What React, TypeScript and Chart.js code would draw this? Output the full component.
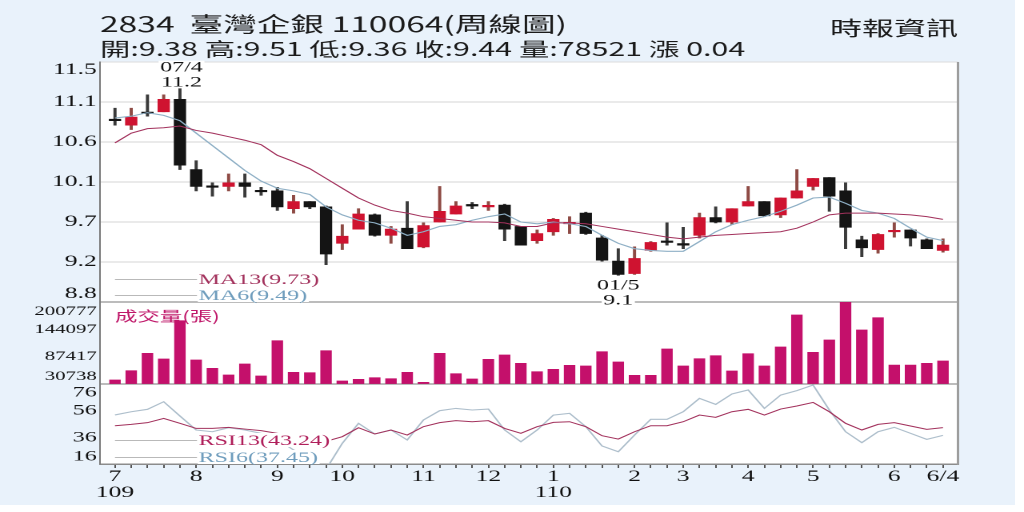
import React, { useEffect, useRef } from 'react';
import { Chart, registerables } from 'chart.js';

Chart.register(...registerables);

// ---------------- data (weekly candles, 109/7 .. 110/6/4) ----------------
const opens = [10.85, 10.79, 10.93, 10.94, 11.08, 10.29, 10.10, 10.10, 10.14, 10.05, 10.05, 9.85, 9.93, 9.87, 9.46, 9.62, 9.78, 9.55, 9.63, 9.42, 9.70, 9.79, 9.89, 9.87, 9.89, 9.65, 9.49, 9.59, 9.68, 9.80, 9.52, 9.26, 9.12, 9.38, 9.48, 9.45, 9.55, 9.75, 9.70, 9.88, 9.93, 9.78, 9.97, 10.10, 10.20, 10.05, 9.50, 9.39, 9.59, 9.61, 9.50, 9.38];
const highs = [10.98, 10.98, 11.13, 11.13, 11.20, 10.39, 10.14, 10.24, 10.24, 10.09, 10.09, 10.00, 9.93, 9.88, 9.67, 9.85, 9.79, 9.65, 9.93, 9.69, 10.10, 9.93, 9.92, 9.93, 9.90, 9.65, 9.61, 9.74, 9.76, 9.81, 9.55, 9.40, 9.42, 9.48, 9.69, 9.64, 9.80, 9.87, 9.85, 10.10, 9.93, 9.97, 10.29, 10.19, 10.20, 10.14, 9.54, 9.57, 9.69, 9.61, 9.51, 9.51];
const lows = [10.79, 10.74, 10.89, 10.94, 10.29, 10.05, 9.99, 10.05, 9.98, 10.00, 9.83, 9.80, 9.85, 9.22, 9.39, 9.62, 9.54, 9.46, 9.40, 9.41, 9.70, 9.79, 9.85, 9.83, 9.49, 9.44, 9.46, 9.55, 9.57, 9.56, 9.26, 9.10, 9.11, 9.37, 9.44, 9.40, 9.52, 9.69, 9.67, 9.88, 9.76, 9.75, 9.97, 10.06, 9.82, 9.40, 9.31, 9.35, 9.53, 9.43, 9.40, 9.36];
const closes = [10.84, 10.88, 10.92, 11.08, 10.34, 10.10, 10.09, 10.14, 10.10, 10.04, 9.87, 9.93, 9.87, 9.34, 9.54, 9.79, 9.55, 9.62, 9.40, 9.66, 9.82, 9.88, 9.88, 9.88, 9.62, 9.44, 9.57, 9.73, 9.69, 9.57, 9.27, 9.11, 9.29, 9.47, 9.47, 9.44, 9.75, 9.70, 9.85, 9.93, 9.77, 9.97, 10.05, 10.19, 9.99, 9.64, 9.41, 9.56, 9.60, 9.52, 9.40, 9.44];
const volumes = [39000, 58300, 94400, 82600, 162000, 80500, 63300, 49400, 72200, 47300, 120500, 55000, 54200, 99800, 37000, 40500, 43800, 41700, 55000, 34300, 94400, 52100, 41100, 82000, 90900, 73700, 56200, 61200, 69500, 68100, 97700, 76400, 48800, 48800, 103300, 68100, 83200, 89400, 57700, 93600, 68100, 107500, 173800, 96500, 122000, 200777, 142700, 168200, 70100, 70100, 73700, 78521];
const ma13 = [10.59, 10.70, 10.75, 10.76, 10.78, 10.73, 10.70, 10.66, 10.62, 10.57, 10.45, 10.38, 10.30, 10.19, 10.08, 9.97, 9.89, 9.83, 9.80, 9.76, 9.74, 9.72, 9.70, 9.70, 9.69, 9.65, 9.65, 9.69, 9.69, 9.68, 9.65, 9.62, 9.59, 9.56, 9.53, 9.51, 9.53, 9.55, 9.56, 9.57, 9.58, 9.59, 9.63, 9.70, 9.78, 9.80, 9.80, 9.80, 9.79, 9.78, 9.76, 9.73];
const ma6 = [10.87, 10.89, 10.93, 10.90, 10.84, 10.70, 10.56, 10.42, 10.28, 10.16, 10.08, 10.05, 10.01, 9.87, 9.78, 9.72, 9.69, 9.63, 9.55, 9.59, 9.65, 9.67, 9.72, 9.76, 9.79, 9.70, 9.68, 9.70, 9.68, 9.65, 9.55, 9.46, 9.40, 9.38, 9.37, 9.37, 9.48, 9.59, 9.67, 9.72, 9.76, 9.82, 9.89, 9.97, 9.98, 9.91, 9.83, 9.80, 9.74, 9.63, 9.53, 9.49];
const rsi13 = [44.7, 45.7, 47.0, 50.2, 46.5, 42.7, 42.7, 43.5, 42.2, 41.0, 39.0, 37.0, 35.0, 33.0, 36.5, 43.2, 38.5, 41.5, 37.7, 44.0, 47.0, 48.5, 47.7, 48.5, 42.7, 39.0, 44.0, 47.2, 47.7, 44.0, 37.2, 34.7, 40.2, 44.7, 44.7, 47.7, 52.7, 51.0, 55.2, 57.0, 52.7, 57.2, 59.5, 62.2, 55.2, 46.5, 41.5, 45.7, 47.0, 44.5, 42.0, 43.24];
const rsi6 = [52.8, 55.2, 57.0, 62.7, 52.0, 41.5, 40.2, 43.2, 41.5, 39.0, 34.5, 26.5, 21.0, 12.0, 31.5, 46.5, 38.5, 41.5, 34.0, 49.0, 56.0, 57.7, 56.5, 57.2, 41.5, 32.7, 41.5, 52.7, 54.0, 44.0, 29.5, 25.2, 37.7, 49.5, 49.5, 55.2, 65.2, 60.7, 68.5, 71.5, 57.7, 67.7, 71.0, 75.2, 56.5, 40.2, 32.0, 40.2, 43.5, 39.0, 34.5, 37.45];

const monthTickIndex = [0, 5, 10, 14, 19, 23, 27, 32, 35, 39, 43, 48, 51];
const monthTickLabels = ['7', '8', '9', '10', '11', '12', '1', '2', '3', '4', '5', '6', '6/4'];
const yearTickIndex = [0, 27];
const yearTickLabels = ['109', '110'];

const priceMin = 8.8;
const priceMax = 11.5;
const priceGridValues = [9.25, 9.7, 10.15, 10.6, 11.05];
const priceTickLabels = ['8.8', '9.2', '9.7', '10.1', '10.6', '11.1', '11.5'];
const volMin = 30738;
const volMax = 200777;
const volInnerValues = [87417, 144097];
const volTickLabels = ['30738', '87417', '144097', '200777'];
const rsiMin = 16;
const rsiMax = 76;
const rsiInnerValues = [36, 56];
const rsiTickLabels = ['16', '36', '56', '76'];

const stockCode = '2834';
const stockName = '臺灣企銀';
const chartStamp = '110064';
const chartKind = '周線圖';
const sourceLabel = '時報資訊';
const peakIndex = 4;
const peakDate = '07/4';
const troughIndex = 31;
const troughDate = '01/5';

// ---------------- layout / style ----------------
const SX = 1.6; // horizontal stretch of the picture
const CW = 640; // internal canvas width (1024 / SX)
const CH = 512;
const PANEL_PRICE = 240;
const PANEL_VOL = 82;
const PANEL_RSI = 80;
const X_PAD = 0.924;

const RED = '#cf1330';
const BLACK = '#141414';
const RED_WICK = '#8e4a44';
const BLACK_WICK = '#3a3a3a';
const VOL_COLOR = '#c4106b';
const MAROON = '#a3325d';
const STEEL = '#8fb0c6';
const SERIF = '"Liberation Serif", "Times New Roman", serif';
const CJK = '"Noto Sans CJK TC", "Noto Sans", sans-serif';

function panelTicks(min: number, max: number, inner: number[], px: number, insetTop: number, insetBottom: number) {
  const per = (max - min) / px;
  return [min, min + insetBottom * per, ...inner, max - insetTop * per, max];
}

const priceTicks = panelTicks(priceMin, priceMax, priceGridValues, PANEL_PRICE, 8, 8);
const priceLabels = ['', ...priceTickLabels, ''];
const volTicks = panelTicks(volMin, volMax, volInnerValues, PANEL_VOL, 9.7, 7.3);
const volLabels = ['', ...volTickLabels, ''];
const rsiTicks = panelTicks(rsiMin, rsiMax, rsiInnerValues, PANEL_RSI, 8.7, 7.3);
const rsiLabels = ['', ...rsiTickLabels, ''];

const idx = opens.map((_, i) => i);
const bodyColors = idx.map((i) => (closes[i] >= opens[i] ? RED : BLACK));
const wickColors = idx.map((i) => (closes[i] >= opens[i] ? RED_WICK : BLACK_WICK));

function drawLegendItem(ctx: CanvasRenderingContext2D, x0: number, x1: number, y: number, text: string, color: string, font: string) {
  ctx.strokeStyle = '#b9b9b9';
  ctx.lineWidth = 1;
  ctx.beginPath();
  ctx.moveTo(x0, y + 0.5);
  ctx.lineTo(x1, y + 0.5);
  ctx.stroke();
  ctx.font = font;
  const w = ctx.measureText(text).width;
  ctx.fillStyle = '#ffffff';
  ctx.fillRect(x1 + 0.5, y - 7, w + 1.5, 14);
  ctx.fillStyle = color;
  ctx.textAlign = 'left';
  ctx.textBaseline = 'middle';
  ctx.fillText(text, x1 + 1, y + 1);
}

function drawBoxedText(ctx: CanvasRenderingContext2D, text: string, x: number, y: number) {
  const w = ctx.measureText(text).width;
  ctx.fillStyle = '#ffffff';
  ctx.fillRect(x - w / 2 - 1, y - 6, w + 2, 12);
  ctx.fillStyle = '#111111';
  ctx.fillText(text, x, y + 1);
}

const decorPlugin = {
  id: 'decor',
  beforeDraw(chart: any) {
    const { ctx, chartArea: a } = chart;
    ctx.save();
    ctx.fillStyle = '#ffffff';
    ctx.fillRect(a.left, a.top, a.right - a.left, a.bottom - a.top);
    ctx.restore();
  },
  afterDraw(chart: any) {
    const { ctx, chartArea: a, scales } = chart;
    const last = closes.length - 1;
    ctx.save();
    // right frame edge
    ctx.strokeStyle = '#9d9d9d';
    ctx.lineWidth = 1.5;
    ctx.beginPath();
    ctx.moveTo(a.right, a.top);
    ctx.lineTo(a.right, a.bottom + 0.75);
    ctx.stroke();

    // header
    const line1 = `${stockCode}  ${stockName} ${chartStamp}(${chartKind})`;
    const change = (closes[last] - closes[last - 1]).toFixed(2);
    const line2 = `開:${opens[last].toFixed(2)} 高:${highs[last].toFixed(2)} 低:${lows[last].toFixed(2)} 收:${closes[last].toFixed(2)} 量:${volumes[last]} 漲 ${change}`;
    ctx.fillStyle = '#1b1b1b';
    ctx.textBaseline = 'middle';
    ctx.textAlign = 'left';
    ctx.font = `21px ${CJK}`;
    ctx.fillText(line1, a.left, 24);
    ctx.font = `19px ${CJK}`;
    ctx.fillText(line2, a.left, 49);
    ctx.textAlign = 'right';
    ctx.font = `20px ${CJK}`;
    ctx.fillText(sourceLabel, a.right, 28);

    // panel legends
    const lx0 = 115 / SX;
    const lx1 = 197 / SX;
    drawLegendItem(ctx, lx0, lx1, 279, `MA13(${ma13[last].toFixed(2)})`, MAROON, `15px ${SERIF}`);
    drawLegendItem(ctx, lx0, lx1, 295, `MA6(${ma6[last].toFixed(2)})`, '#6f9dbd', `15px ${SERIF}`);
    drawLegendItem(ctx, lx0, lx1, 440, `RSI13(${rsi13[last].toFixed(2)})`, '#b01f5b', `15px ${SERIF}`);
    drawLegendItem(ctx, lx0, lx1, 457, `RSI6(${rsi6[last].toFixed(2)})`, '#6f9dbd', `15px ${SERIF}`);
    ctx.font = `14px ${CJK}`;
    ctx.fillStyle = '#c0186a';
    ctx.textAlign = 'left';
    ctx.fillText('成交量(張)', lx0, 316);

    // high / low annotations
    ctx.font = `15px ${SERIF}`;
    ctx.textAlign = 'center';
    ctx.textBaseline = 'middle';
    const px = scales.x.getPixelForValue(peakIndex);
    const py = scales.y.getPixelForValue(highs[peakIndex]);
    drawBoxedText(ctx, peakDate, px + 1, py - 22);
    drawBoxedText(ctx, highs[peakIndex].toFixed(1), px + 1, py - 7);
    const tx = scales.x.getPixelForValue(troughIndex);
    const ty = scales.y.getPixelForValue(lows[troughIndex]);
    drawBoxedText(ctx, troughDate, tx, ty + 9);
    drawBoxedText(ctx, lows[troughIndex].toFixed(1), tx, ty + 24);
    ctx.restore();
  },
};

function gridColorFor(edgeDark: number | null, lightValues: number[], topValue: number | null) {
  return (c: any) => {
    const v = c.tick ? c.tick.value : undefined;
    if (edgeDark !== null && v === edgeDark) return '#7a7a7a';
    if (lightValues.includes(v)) return '#d6d6d6';
    if (topValue !== null && v === topValue) return '#dcdcdc';
    return 'rgba(0,0,0,0)';
  };
}

export default function App() {
  const ref = useRef<HTMLCanvasElement | null>(null);

  useEffect(() => {
    const canvas = ref.current;
    if (!canvas) return;
    const chart = new Chart(canvas, {
      type: 'bar',
      data: {
        datasets: [
          {
            type: 'line',
            label: 'MA13',
            data: idx.map((i) => ({ x: i, y: ma13[i] })),
            yAxisID: 'y',
            borderColor: MAROON,
            borderWidth: 1,
            pointRadius: 0,
            tension: 0,
            order: 0,
          },
          {
            type: 'line',
            label: 'MA6',
            data: idx.map((i) => ({ x: i, y: ma6[i] })),
            yAxisID: 'y',
            borderColor: STEEL,
            borderWidth: 1.1,
            pointRadius: 0,
            tension: 0,
            order: 0,
          },
          {
            type: 'bar',
            label: 'wick',
            data: idx.map((i) => ({ x: i, y: [lows[i], highs[i]] })),
            yAxisID: 'y',
            backgroundColor: wickColors,
            barThickness: 1.3,
            grouped: false,
            order: 2,
          },
          {
            type: 'bar',
            label: 'body',
            data: idx.map((i) => ({ x: i, y: [opens[i], closes[i]] })),
            yAxisID: 'y',
            backgroundColor: bodyColors,
            barThickness: 7,
            minBarLength: 1.5,
            grouped: false,
            order: 1,
          },
          {
            type: 'bar',
            label: 'volume',
            data: idx.map((i) => ({ x: i, y: volumes[i] })),
            yAxisID: 'yVol',
            base: volMin,
            backgroundColor: VOL_COLOR,
            barThickness: 6.5,
            grouped: false,
            order: 1,
          },
          {
            type: 'line',
            label: 'RSI13',
            data: idx.map((i) => ({ x: i, y: rsi13[i] })),
            yAxisID: 'yRsi',
            borderColor: MAROON,
            borderWidth: 1,
            pointRadius: 0,
            tension: 0,
            order: 0,
          },
          {
            type: 'line',
            label: 'RSI6',
            data: idx.map((i) => ({ x: i, y: rsi6[i] })),
            yAxisID: 'yRsi',
            borderColor: '#aebfcc',
            borderWidth: 1.1,
            pointRadius: 0,
            tension: 0,
            order: 0,
          },
        ],
      } as any,
      options: {
        responsive: false,
        devicePixelRatio: 2,
        animation: false,
        events: [],
        layout: { padding: { top: 62, right: CW - 958 / SX, bottom: 0, left: 0 }, autoPadding: false },
        plugins: { legend: { display: false }, tooltip: { enabled: false }, title: { display: false } },
        scales: {
          x: {
            type: 'linear',
            position: 'bottom',
            min: -X_PAD,
            max: opens.length - 1 + X_PAD,
            offset: false,
            bounds: 'data',
            afterBuildTicks: (s: any) => {
              s.ticks = idx.map((v) => ({ value: v }));
            },
            afterFit: (s: any) => {
              s.height = 48;
              s.paddingLeft = 0;
              s.paddingRight = 0;
            },
            grid: { offset: false, drawOnChartArea: false, drawTicks: true, tickLength: 4, color: '#555555', lineWidth: 1 },
            border: { display: true, color: '#8c8c8c', width: 1.5 },
            ticks: {
              autoSkip: false,
              maxRotation: 0,
              minRotation: 0,
              padding: 1,
              color: '#111111',
              font: { family: SERIF, size: 16, lineHeight: 1.0 },
              callback: (v: any) => {
                const k = monthTickIndex.indexOf(v);
                if (k < 0) return '';
                const y = yearTickIndex.indexOf(v);
                return y >= 0 ? [monthTickLabels[k], yearTickLabels[y]] : monthTickLabels[k];
              },
            },
          },
          y: {
            type: 'linear',
            position: 'left',
            stack: 'panels',
            stackWeight: PANEL_PRICE,
            weight: 3,
            min: priceMin,
            max: priceMax,
            bounds: 'data',
            afterBuildTicks: (s: any) => {
              s.ticks = priceTicks.map((v) => ({ value: v }));
            },
            afterFit: (s: any) => {
              s.width = 100 / SX;
              s.paddingTop = 0;
              s.paddingBottom = 0;
            },
            grid: { drawTicks: false, lineWidth: 1, color: gridColorFor(priceMin, priceGridValues, priceMax) },
            border: { display: true, color: '#7a7a7a', width: 1 },
            ticks: {
              autoSkip: false,
              padding: 2,
              color: '#111111',
              font: { family: SERIF, size: 16 },
              callback: (_v: any, i: number) => priceLabels[i],
            },
          },
          yVol: {
            type: 'linear',
            position: 'left',
            stack: 'panels',
            stackWeight: PANEL_VOL,
            weight: 2,
            min: volMin,
            max: volMax,
            bounds: 'data',
            afterBuildTicks: (s: any) => {
              s.ticks = volTicks.map((v) => ({ value: v }));
            },
            afterFit: (s: any) => {
              s.width = 100 / SX;
              s.paddingTop = 0;
              s.paddingBottom = 0;
            },
            grid: { drawTicks: false, lineWidth: 1, color: gridColorFor(volMin, [], null) },
            border: { display: true, color: '#7a7a7a', width: 1 },
            ticks: {
              autoSkip: false,
              padding: 2,
              color: '#111111',
              font: { family: SERIF, size: 13 },
              callback: (_v: any, i: number) => volLabels[i],
            },
          },
          yRsi: {
            type: 'linear',
            position: 'left',
            stack: 'panels',
            stackWeight: PANEL_RSI,
            weight: 1,
            min: rsiMin,
            max: rsiMax,
            bounds: 'data',
            afterBuildTicks: (s: any) => {
              s.ticks = rsiTicks.map((v) => ({ value: v }));
            },
            afterFit: (s: any) => {
              s.width = 100 / SX;
              s.paddingTop = 0;
              s.paddingBottom = 0;
            },
            grid: { drawTicks: false, lineWidth: 1, color: gridColorFor(null, [], null) },
            border: { display: true, color: '#7a7a7a', width: 1 },
            ticks: {
              autoSkip: false,
              padding: 2,
              color: '#111111',
              font: { family: SERIF, size: 15 },
              callback: (_v: any, i: number) => rsiLabels[i],
            },
          },
        },
      } as any,
      plugins: [decorPlugin],
    });
    return () => chart.destroy();
  }, []);

  return (
    <div style={{ position: 'absolute', left: 0, top: 0, width: 1024, height: 512, background: '#ffffff', overflow: 'hidden' }}>
      <div style={{ position: 'absolute', left: 0, top: 0, width: 1015, height: 505, background: '#e9f2fb' }} />
      <canvas
        ref={ref}
        width={CW}
        height={CH}
        style={{ position: 'absolute', left: 0, top: 0, width: '1024px', height: '512px' }}
      />
    </div>
  );
}
